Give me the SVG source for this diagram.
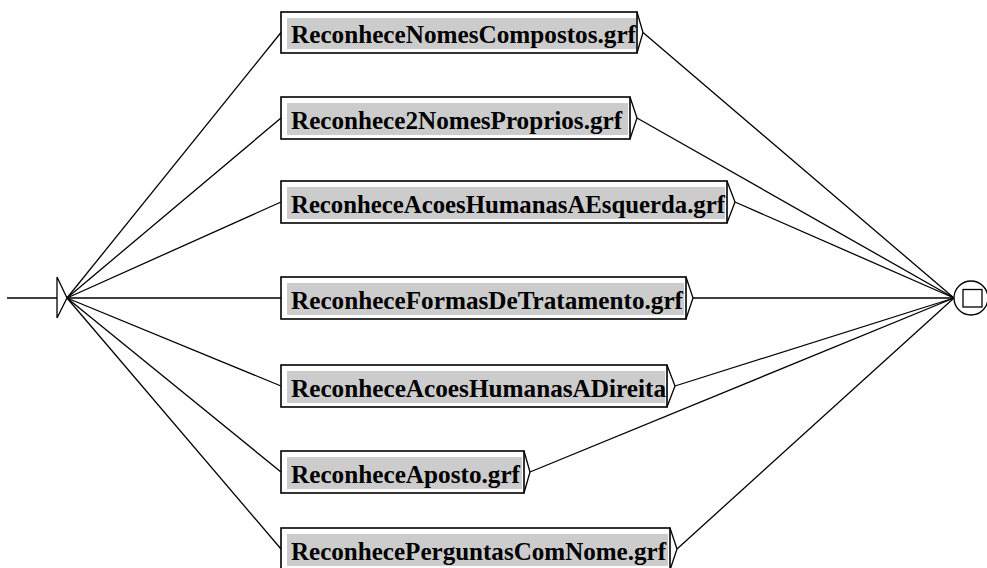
<svg xmlns="http://www.w3.org/2000/svg" width="987" height="568" viewBox="0 0 987 568">
<style>
.e{stroke:#000;stroke-width:1.3;fill:none}
.b{fill:#fff;stroke:#000;stroke-width:1.6}
.g{fill:#cccccc;stroke:none}
.t{font-family:"Liberation Serif","Times New Roman",serif;font-weight:bold;font-size:25px;fill:#000}
</style>
<rect width="987" height="568" fill="#fff"/>
<g id="connectors">
<line class="e" x1="7" y1="298" x2="57" y2="298"/>
<line class="e" x1="67" y1="298" x2="281" y2="32.5"/>
<line class="e" x1="67" y1="298" x2="281" y2="118"/>
<line class="e" x1="67" y1="298" x2="281" y2="202"/>
<line class="e" x1="67" y1="298" x2="281" y2="298"/>
<line class="e" x1="67" y1="298" x2="281" y2="386"/>
<line class="e" x1="67" y1="298" x2="281" y2="472"/>
<line class="e" x1="67" y1="298" x2="281" y2="549"/>
<line class="e" x1="643" y1="32.5" x2="954" y2="298"/>
<line class="e" x1="637" y1="118" x2="954" y2="298"/>
<line class="e" x1="735" y1="202" x2="954" y2="298"/>
<line class="e" x1="693" y1="298" x2="954" y2="298"/>
<line class="e" x1="675" y1="386" x2="954" y2="298"/>
<line class="e" x1="530" y1="472" x2="954" y2="298"/>
<line class="e" x1="677" y1="549" x2="954" y2="298"/>
</g>
<g id="initial">
<path class="e" d="M57,277 L57,318 M57,277 L67,298 L57,318"/>
</g>
<g id="final">
<circle cx="971" cy="298" r="17" fill="#fff" stroke="#000" stroke-width="1.3"/>
<rect x="963" y="289.5" width="19" height="17.5" fill="none" stroke="#000" stroke-width="1.3"/>
</g>
<g id="box1">
<rect class="b" x="281" y="12" width="356" height="41"/>
<rect class="g" x="287" y="18" width="349" height="31"/>
<text class="t" x="291" y="43" textLength="345" lengthAdjust="spacingAndGlyphs">ReconheceNomesCompostos.grf</text>
<path class="e" d="M637,12 L643,32.5 L637,53"/>
</g>
<g id="box2">
<rect class="b" x="281" y="97" width="349" height="42"/>
<rect class="g" x="287" y="103" width="341" height="32"/>
<text class="t" x="291" y="128.5" textLength="331" lengthAdjust="spacingAndGlyphs">Reconhece2NomesProprios.grf</text>
<path class="e" d="M630,97 L637,118 L630,139"/>
</g>
<g id="box3">
<rect class="b" x="281" y="181" width="446" height="42"/>
<rect class="g" x="287" y="187" width="438" height="32"/>
<text class="t" x="291" y="212.5" textLength="434" lengthAdjust="spacingAndGlyphs">ReconheceAcoesHumanasAEsquerda.grf</text>
<path class="e" d="M727,181 L735,202 L727,223"/>
</g>
<g id="box4">
<rect class="b" x="281" y="277" width="405" height="42"/>
<rect class="g" x="287" y="283" width="397" height="32"/>
<text class="t" x="291" y="308.5" textLength="392" lengthAdjust="spacingAndGlyphs">ReconheceFormasDeTratamento.grf</text>
<path class="e" d="M686,277 L693,298 L686,319"/>
</g>
<g id="box5">
<rect class="b" x="281" y="365" width="386" height="42"/>
<rect class="g" x="287" y="371" width="378" height="32"/>
<text class="t" x="291" y="396.5" textLength="375" lengthAdjust="spacingAndGlyphs">ReconheceAcoesHumanasADireita</text>
<path class="e" d="M667,365 L675,386 L667,407"/>
</g>
<g id="box6">
<rect class="b" x="281" y="451" width="243" height="42"/>
<rect class="g" x="287" y="457" width="235" height="32"/>
<text class="t" x="291" y="482.5" textLength="229" lengthAdjust="spacingAndGlyphs">ReconheceAposto.grf</text>
<path class="e" d="M524,451 L530,472 L524,493"/>
</g>
<g id="box7">
<rect class="b" x="281" y="528" width="389" height="42"/>
<rect class="g" x="287" y="534" width="381" height="32"/>
<text class="t" x="291" y="559.5" textLength="375" lengthAdjust="spacingAndGlyphs">ReconhecePerguntasComNome.grf</text>
<path class="e" d="M670,528 L677,549 L670,570"/>
</g>
</svg>
